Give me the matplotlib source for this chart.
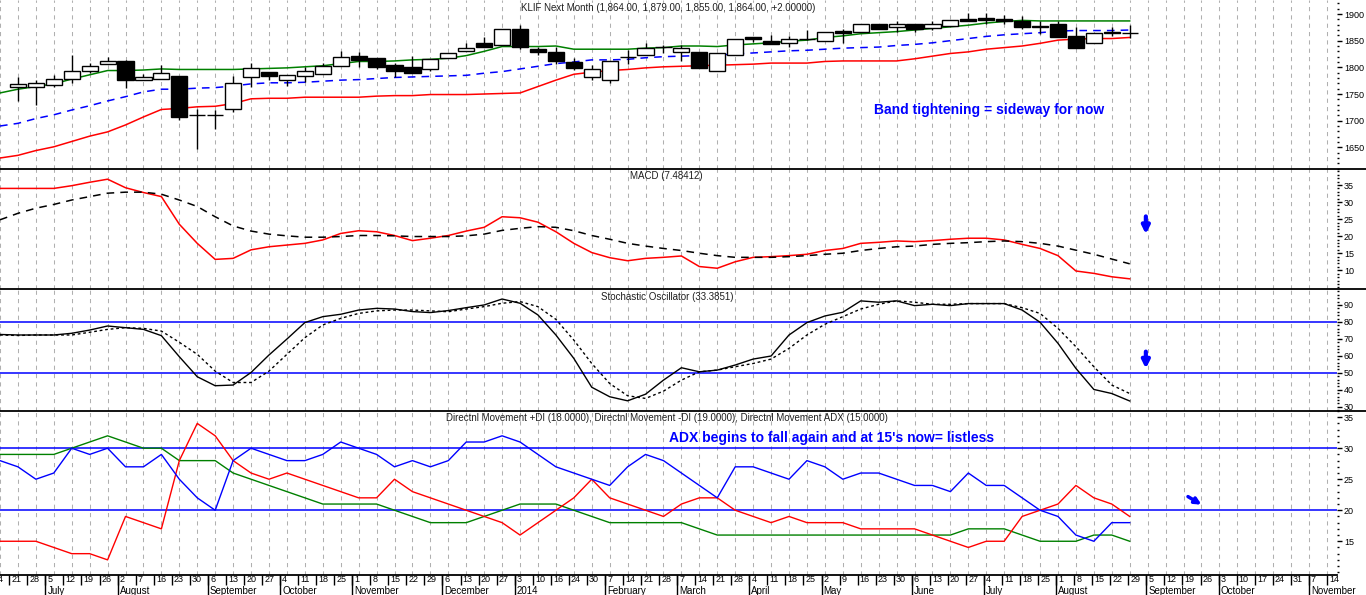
import numpy as np
import matplotlib
matplotlib.use("Agg")
import matplotlib.pyplot as plt
from matplotlib.patches import Rectangle
from matplotlib.lines import Line2D
from matplotlib.ticker import MultipleLocator

plt.rcParams['font.family'] = ['Liberation Sans', 'DejaVu Sans']

# ---- data (weekly, first value = 14 Jun 2013, last = 29 Aug 2014) ----
week_labels = ["14", "21", "28", "5", "12", "19", "26", "2", "7", "16", "23", "30",
               "6", "13", "20", "27", "4", "11", "18", "25", "1", "8", "15", "22", "29",
               "6", "13", "20", "27", "3", "10", "16", "24", "30", "7", "14", "21", "28",
               "7", "14", "21", "28", "4", "11", "18", "25", "2", "9", "16", "23", "30",
               "6", "13", "20", "27", "4", "11", "18", "25", "1", "8", "15", "22", "29",
               "5", "12", "19", "26", "3", "10", "17", "24", "31", "7", "14"]
month_names = ["July", "August", "September", "October", "November", "December", "2014",
               "February", "March", "April", "May", "June", "July", "August",
               "September", "October", "November"]
month_start = [3, 7, 12, 16, 20, 25, 29, 34, 38, 42, 46, 51, 55, 59, 64, 68, 73]  # index into week_labels

nan = np.nan
opens = [nan, 1764, 1763, 1766, 1779, 1793, 1806, 1812, 1776, 1779, 1784, 1711, 1711, 1722, 1781,
         1791, 1776, 1784, 1787, 1802, 1821, 1817, 1804, 1801, 1796, 1817, 1831, 1846, 1842, 1872,
         1834, 1828, 1810, 1782, 1777, 1819, 1824, 1839, 1828, 1828, 1794, 1824, 1856, 1849, 1845,
         1854, 1849, 1868, 1866, 1882, 1875, 1882, 1873, 1878, 1890, 1892, 1890, 1887, 1878, 1881,
         1859, 1846, 1867, 1864]
highs = [nan, 1781, 1776, 1786, 1823, 1809, 1819, 1814, 1787, 1804, 1784, 1722, 1720, 1784, 1809,
         1791, 1786, 1800, 1809, 1831, 1829, 1817, 1809, 1821, 1815, 1826, 1846, 1856, 1871, 1879,
         1839, 1839, 1817, 1804, 1811, 1832, 1846, 1842, 1842, 1828, 1826, 1854, 1856, 1861, 1858,
         1870, 1867, 1871, 1882, 1882, 1886, 1882, 1886, 1889, 1901, 1901, 1898, 1897, 1886, 1886,
         1876, 1864, 1876, 1879]
lows = [nan, 1737, 1730, 1764, 1771, 1790, 1806, 1762, 1776, 1779, 1701, 1647, 1685, 1717, 1764,
        1776, 1765, 1773, 1787, 1802, 1801, 1796, 1781, 1790, 1793, 1817, 1831, 1839, 1842, 1834,
        1823, 1806, 1795, 1776, 1771, 1807, 1824, 1826, 1812, 1798, 1794, 1824, 1848, 1844, 1839,
        1851, 1849, 1845, 1866, 1871, 1867, 1867, 1870, 1878, 1887, 1882, 1882, 1871, 1862, 1857,
        1837, 1846, 1859, 1855]
closes = [nan, 1768, 1770, 1779, 1793, 1802, 1811, 1777, 1781, 1789, 1706, 1711, 1711, 1770, 1798,
          1784, 1786, 1793, 1802, 1819, 1814, 1801, 1794, 1790, 1815, 1826, 1837, 1839, 1871, 1839,
          1828, 1811, 1799, 1796, 1811, 1820, 1836, 1839, 1836, 1798, 1826, 1854, 1853, 1844, 1853,
          1854, 1867, 1864, 1882, 1871, 1881, 1871, 1882, 1889, 1887, 1889, 1887, 1876, 1875, 1857,
          1837, 1864, 1864, 1864]

band_upper = [1752, 1759, 1764, 1769, 1778, 1786, 1794, 1794, 1795, 1797, 1796, 1796, 1796, 1796,
              1797, 1798, 1799, 1801, 1803, 1807, 1811, 1811, 1812, 1814, 1815, 1817, 1822, 1830,
              1839, 1839, 1839, 1840, 1834, 1834, 1834, 1834, 1836, 1837, 1840, 1840, 1839, 1842,
              1844, 1846, 1849, 1851, 1856, 1859, 1863, 1865, 1867, 1870, 1873, 1876, 1879, 1883,
              1886, 1888, 1887, 1887, 1887, 1887, 1887, 1887]
band_mid = [1690, 1695, 1704, 1711, 1720, 1728, 1737, 1745, 1754, 1759, 1759, 1761, 1762, 1765,
            1769, 1771, 1771, 1772, 1774, 1776, 1777, 1779, 1781, 1782, 1783, 1784, 1785, 1789,
            1792, 1797, 1802, 1807, 1810, 1814, 1814, 1815, 1818, 1820, 1821, 1822, 1823, 1825,
            1827, 1829, 1831, 1832, 1834, 1836, 1837, 1838, 1841, 1843, 1846, 1850, 1854, 1858,
            1861, 1863, 1865, 1868, 1869, 1869, 1869, 1870]
band_lower = [1630, 1635, 1644, 1651, 1661, 1671, 1679, 1692, 1707, 1721, 1723, 1726, 1727, 1732,
              1741, 1742, 1742, 1744, 1744, 1744, 1744, 1746, 1747, 1747, 1749, 1749, 1749, 1750,
              1751, 1752, 1764, 1776, 1787, 1791, 1794, 1796, 1799, 1801, 1802, 1803, 1804, 1805,
              1806, 1808, 1808, 1808, 1811, 1812, 1812, 1812, 1812, 1816, 1821, 1826, 1829, 1834,
              1837, 1840, 1845, 1851, 1853, 1854, 1854, 1856]

macd = [34.0, 34.0, 34.0, 34.0, 34.8, 35.8, 36.7, 34.2, 32.8, 31.6, 23.5, 17.9, 13.2, 13.5, 16.0,
        16.9, 17.4, 17.9, 18.9, 20.8, 21.6, 21.3, 20.2, 18.7, 19.4, 20.2, 21.5, 22.6, 25.7, 25.4,
        24.1, 21.3, 17.9, 15.2, 13.7, 12.8, 13.5, 13.8, 14.2, 11.1, 10.6, 12.5, 13.8, 14.0, 14.3,
        14.7, 15.8, 16.4, 17.9, 18.2, 18.6, 18.4, 18.7, 19.1, 19.4, 19.4, 18.9, 17.6, 16.4, 14.3,
        9.8, 9.1, 8.1, 7.5]
macd_signal = [24.8, 26.7, 28.2, 29.3, 30.6, 31.6, 32.6, 32.9, 32.9, 32.3, 30.6, 28.7, 25.7, 23.0,
               21.5, 20.6, 20.1, 19.7, 19.7, 19.9, 20.2, 20.2, 20.1, 19.9, 19.9, 19.9, 20.1, 20.6,
               21.7, 22.3, 22.8, 22.6, 21.6, 20.2, 19.1, 17.9, 17.1, 16.4, 15.8, 15.0, 14.3, 13.8,
               13.8, 13.8, 14.0, 14.3, 14.7, 15.0, 15.8, 16.4, 16.9, 17.1, 17.6, 17.9, 18.1, 18.4,
               18.6, 18.4, 17.9, 17.1, 15.9, 14.7, 13.3, 11.9]

stoch_k = [72.6, 72.3, 72.3, 72.3, 73.3, 75.2, 77.6, 76.6, 75.6, 71.9, 59.5, 47.7, 42.4, 42.8,
           50.2, 60.5, 69.9, 79.6, 83.1, 84.5, 87.0, 88.0, 87.6, 86.1, 85.5, 86.7, 88.4, 90.0,
           93.5, 91.0, 84.1, 72.3, 58.5, 41.5, 35.9, 33.5, 37.4, 45.7, 53.0, 50.6, 51.6, 54.6,
           58.1, 59.9, 72.3, 79.6, 83.5, 85.7, 92.4, 91.6, 92.4, 89.6, 90.4, 89.6, 90.8, 90.8,
           90.8, 87.0, 79.8, 67.4, 52.6, 40.2, 37.8, 33.4]
stoch_d = [72.3, 72.0, 72.3, 72.3, 72.3, 73.9, 75.6, 76.6, 76.2, 74.6, 68.0, 60.9, 51.0, 44.3,
           44.3, 51.0, 60.9, 70.7, 78.2, 82.1, 85.0, 86.5, 87.0, 87.0, 86.5, 86.0, 87.6, 89.0,
           91.0, 92.0, 89.0, 81.5, 69.3, 55.5, 43.7, 36.5, 34.9, 39.2, 45.7, 50.6, 51.6, 53.6,
           55.5, 58.1, 64.4, 72.3, 78.6, 83.1, 87.6, 90.4, 92.4, 91.6, 90.4, 90.4, 90.8, 90.8,
           90.8, 88.4, 85.0, 76.2, 65.4, 53.6, 42.8, 37.8]

plus_di = [28, 27, 25, 26, 30, 29, 30, 27, 27, 29, 25, 22, 20, 28, 30, 29, 28, 28, 29, 31, 30, 29,
           27, 28, 27, 28, 31, 31, 32, 31, 29, 27, 26, 25, 24, 27, 29, 28, 26, 24, 22, 27, 27, 26,
           25, 28, 27, 25, 26, 26, 25, 24, 24, 23, 26, 24, 24, 22, 20, 19, 16, 15, 18, 18]
minus_di = [15, 15, 15, 14, 13, 13, 12, 19, 18, 17, 28, 34, 32, 28, 26, 25, 26, 25, 24, 23, 22, 22,
            25, 23, 22, 21, 20, 19, 18, 16, 18, 20, 22, 25, 22, 21, 20, 19, 21, 22, 22, 20, 19, 18,
            19, 18, 18, 18, 17, 17, 17, 17, 16, 15, 14, 15, 15, 19, 20, 21, 24, 22, 21, 19]
adx = [29, 29, 29, 29, 30, 31, 32, 31, 30, 30, 28, 28, 28, 26, 25, 24, 23, 22, 21, 21, 21, 21, 20,
       19, 18, 18, 18, 19, 20, 21, 21, 21, 20, 19, 18, 18, 18, 18, 18, 17, 16, 16, 16, 16, 16, 16,
       16, 16, 16, 16, 16, 16, 16, 16, 17, 17, 17, 16, 15, 15, 15, 16, 16, 15]

title_price = "KLIF Next Month (1,864.00, 1,879.00, 1,855.00, 1,864.00, +2.00000)"
title_macd = "MACD (7.48412)"
title_stoch = "Stochastic Oscillator (33.3851)"
title_dmi = ("Directnl Movement +DI (18.0000), Directnl Movement -DI (19.0000), "
             "Directnl Movement ADX (15.0000)")
note_price = "Band tightening = sideway for now"
note_dmi = "ADX begins to fall again and at 15's now= listless"

# x positions: week index, first data week is -1
x = np.arange(-1, len(opens) - 1)
tick_x = np.arange(-1, len(week_labels) - 1)
XLIM = (-0.515, 73.56)

W, H = 1366, 595
fig = plt.figure(figsize=(W / 100, H / 100), dpi=100)
right = 1337 / W
small_font = ['Liberation Sans Narrow', 'Liberation Sans']


def make_ax(top_px, bot_px):
    ax = fig.add_axes([0, 1 - bot_px / H, right, (bot_px - top_px) / H])
    ax.set_xlim(*XLIM)
    ax.set_xticks(tick_x)
    ax.tick_params(axis='x', length=0, labelbottom=False)
    ax.grid(axis='x', color='#b0b0b0', linestyle=(0, (4, 4)), linewidth=0.75)
    ax.set_axisbelow(True)
    for s in ['top', 'left', 'bottom', 'right']:
        ax.spines[s].set_visible(False)
    ax.yaxis.tick_right()
    ax.tick_params(axis='y', which='major', length=3.5, width=1, pad=1.5, labelsize=6.5)
    ax.tick_params(axis='y', which='minor', length=1.5, width=1)
    return ax


# ---- price panel ----
ax1 = make_ax(0, 169)
ax1.set_ylim(1609.4, 1926.25)
ax1.set_yticks([1650, 1700, 1750, 1800, 1850, 1900])
ax1.yaxis.set_minor_locator(MultipleLocator(10))
ax1.plot(x, band_upper, color='green', lw=1.1, zorder=2)
ax1.plot(x, band_mid, color='blue', lw=1.1, linestyle=(0, (5, 4)), zorder=2)
ax1.plot(x, band_lower, color='red', lw=1.1, zorder=2)
bw = 0.9
for xi, o, h, l, c in zip(x, opens, highs, lows, closes):
    if np.isnan(o):
        continue
    ax1.vlines(xi, l, h, color='black', lw=1.0, zorder=3)
    fc = 'white' if c >= o else 'black'
    ax1.add_patch(Rectangle((xi - bw / 2, min(o, c)), bw, abs(c - o),
                            facecolor=fc, edgecolor='black', lw=1.0, zorder=4))
ax1.text(0.5, 0.985, title_price, transform=ax1.transAxes, ha='center', va='top',
         fontsize=7, family=small_font, color='#202020')
ax1.text(0.74, 0.35, note_price, transform=ax1.transAxes, ha='center', va='center',
         fontsize=10, fontweight='bold', color='blue')

# ---- MACD panel ----
ax2 = make_ax(169, 289)
ax2.set_ylim(4.52, 39.69)
ax2.set_yticks([10, 15, 20, 25, 30, 35])
ax2.yaxis.set_minor_locator(MultipleLocator(1))
ax2.plot(x, macd, color='red', lw=1.1)
ax2.plot(x, macd_signal, color='black', lw=1.1, linestyle=(0, (5, 4)))
ax2.text(0.498, 0.985, title_macd, transform=ax2.transAxes, ha='center', va='top',
         fontsize=7, family=small_font, color='#202020')
ax2.annotate('', xy=(62.9, 20.6), xytext=(62.9, 25.8),
             arrowprops=dict(arrowstyle='-|>', color='blue', lw=3, mutation_scale=11,
                             shrinkA=0, shrinkB=0))

# ---- Stochastic panel ----
ax3 = make_ax(289, 411)
ax3.set_ylim(27.5, 99.4)
ax3.set_yticks([30, 40, 50, 60, 70, 80, 90])
ax3.yaxis.set_minor_locator(MultipleLocator(2))
ax3.axhline(80, color='blue', lw=1.1)
ax3.axhline(50, color='blue', lw=1.1)
ax3.plot(x, stoch_k, color='black', lw=1.0)
ax3.plot(x, stoch_d, color='black', lw=1.0, linestyle=(0, (2, 2)))
ax3.text(0.499, 0.975, title_stoch, transform=ax3.transAxes, ha='center', va='top',
         fontsize=7, family=small_font, color='#202020')
ax3.annotate('', xy=(62.9, 52.5), xytext=(62.9, 62.5),
             arrowprops=dict(arrowstyle='-|>', color='blue', lw=3, mutation_scale=11,
                             shrinkA=0, shrinkB=0))

# ---- DMI panel ----
ax4 = make_ax(411, 575)
ax4.set_ylim(9.56, 36.0)
ax4.set_yticks([15, 20, 25, 30, 35])
ax4.yaxis.set_minor_locator(MultipleLocator(1))
ax4.axhline(30, color='blue', lw=1.1)
ax4.axhline(20, color='blue', lw=1.1)
ax4.plot(x, adx, color='green', lw=1.0)
ax4.plot(x, minus_di, color='red', lw=1.0)
ax4.plot(x, plus_di, color='blue', lw=1.0)
ax4.spines['bottom'].set_visible(True)
ax4.spines['bottom'].set_linewidth(1.3)
ax4.text(0.499, 0.985, title_dmi, transform=ax4.transAxes, ha='center', va='top',
         fontsize=7, family=small_font, color='#202020')
ax4.text(0.622, 0.835, note_dmi, transform=ax4.transAxes, ha='center', va='center',
         fontsize=10, fontweight='bold', color='blue')
ax4.annotate('', xy=(66.0, 20.9), xytext=(65.25, 22.2),
             arrowprops=dict(arrowstyle='-|>', color='blue', lw=2.5, mutation_scale=9,
                             shrinkA=0, shrinkB=0))

# ---- date axis ----
axd = fig.add_axes([0, 0, right, 20 / H])
axd.set_xlim(*XLIM)
axd.set_ylim(0, 1)
axd.axis('off')
for xi, lab in zip(tick_x, week_labels):
    axd.vlines(xi, 0.5, 1.0, color='black', lw=1.0)
    axd.text(xi + 0.12, 0.75, lab, ha='left', va='center', fontsize=6.5, family=small_font)
for k, name in zip(month_start, month_names):
    xi = tick_x[k]
    axd.vlines(xi, 0.0, 1.0, color='black', lw=1.0)
    axd.text(xi + 0.12, 0.22, name, ha='left', va='center', fontsize=7, family=small_font)

# panel separators across the full width
for ypx in (169, 289, 411):
    fig.add_artist(Line2D([0, 1], [1 - ypx / H, 1 - ypx / H], color='black', lw=1.3))

fig.savefig("out.png", dpi=100, facecolor='white')
